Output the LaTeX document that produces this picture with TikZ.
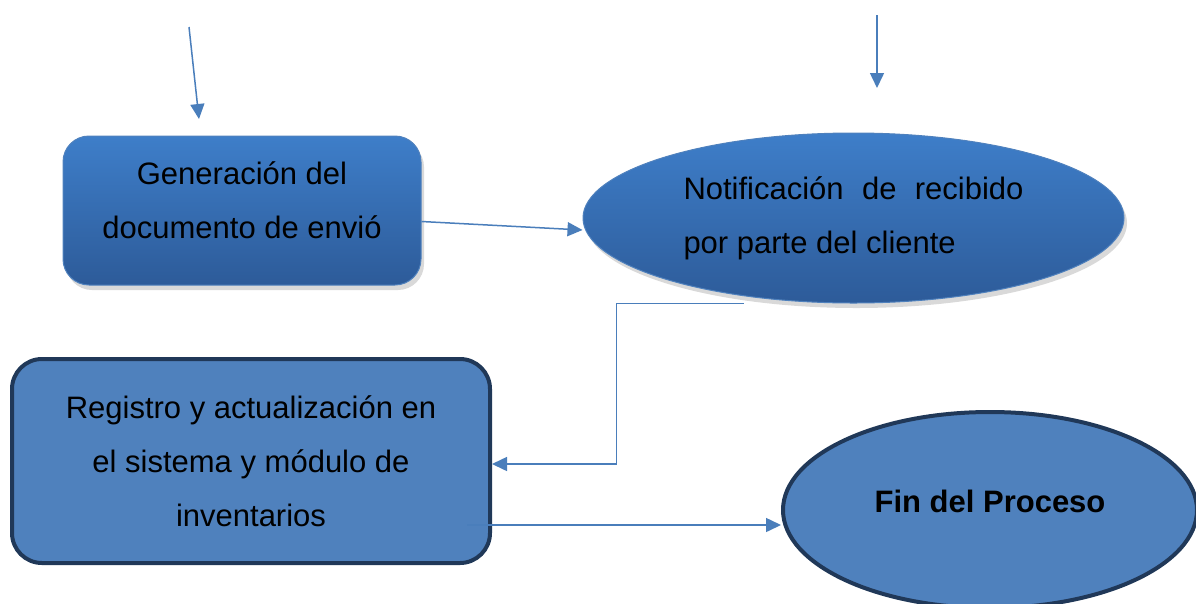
\documentclass[tikz,border=0pt]{standalone}
\usepackage{fontspec}
\setmainfont{Liberation Sans}
\usetikzlibrary{shapes.geometric,arrows.meta,shadows}

\definecolor{conector}{RGB}{74,126,187}
\definecolor{degradarriba}{RGB}{62,126,201}
\definecolor{degradabajo}{RGB}{45,91,153}
\definecolor{rellenocaja}{RGB}{79,129,189}
\definecolor{bordecaja}{RGB}{32,56,88}

\begin{document}
\begin{tikzpicture}[x=1pt,y=-1pt,
    flecha/.style={draw=conector,line width=1.5pt,-{Triangle[length=15pt,width=14pt]}},
    sombreado/.style={draw=rellenocaja,line width=1pt,top color=degradarriba,bottom color=degradabajo,
        drop shadow={opacity=0.3,shadow xshift=3pt,shadow yshift=-5pt}},
    cajaoscura/.style={draw=bordecaja,line width=4pt,fill=rellenocaja},
    texto/.style={font=\fontsize{31}{54}\selectfont,inner sep=0pt}]
            \useasboundingbox (0,0) rectangle (1196,603);

            % Pfeile von oben
            \coordinate (e0) at (189,27);
            \coordinate (e1) at (199,119);
            \coordinate (f0) at (877,15);
            \coordinate (f1) at (877,88);

            \draw[flecha] (e0) -- (e1);
            \draw[flecha] (f0) -- (f1);

            % Erste Reihe
            \node[sombreado,texto,rectangle,rounded corners=26pt,minimum width=358pt,minimum height=149pt,
                align=center,text depth=20pt] (gen) at (242,210.5)
                {Generación del\\documento de envió};
            \node[sombreado,texto,ellipse,minimum width=541pt,minimum height=170pt,align=left] (noti) at (853.5,218)
                {\makebox[340pt][s]{Notificación de recibido}\\por parte del cliente};

            % Zweite Reihe
            \node[cajaoscura,texto,rectangle,rounded corners=30pt,minimum width=478pt,minimum height=204pt,
                align=center] (reg) at (251,461)
                {Registro y actualización en\\el sistema y módulo de\\inventarios};
            \node[cajaoscura,texto,ellipse,minimum width=414pt,minimum height=196pt,text depth=18pt,
                font=\fontsize{31}{54}\selectfont\bfseries] (fin) at (990,510)
                {Fin del Proceso};

            % Verbindungen
            \draw[flecha] ([yshift=-11pt]gen.east) -- ([yshift=-12pt]noti.west);
            \draw[flecha] ([xshift=-110pt]noti.south) -- ++(-127,0) |- ([yshift=-3pt]reg.east);
            \draw[flecha] ([xshift=-25pt,yshift=-64pt]reg.east) -- ([yshift=-15pt]fin.west);
\end{tikzpicture}
\end{document}
